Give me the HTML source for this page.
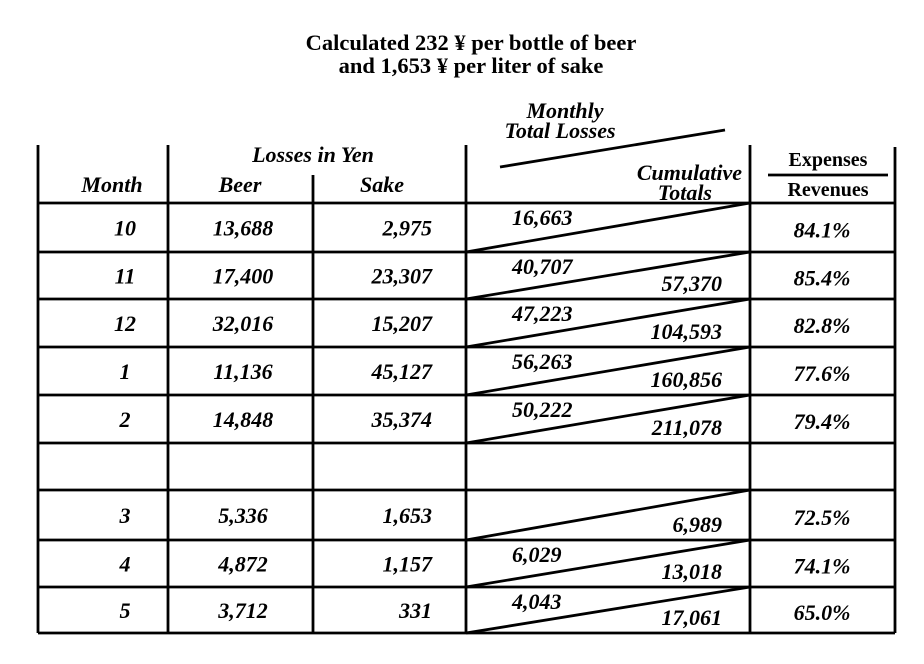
<!DOCTYPE html>
<html><head><meta charset="utf-8"><style>
html,body{margin:0;padding:0;background:#fff;}
svg{display:block;}
text{font-family:"Liberation Serif",serif;fill:#000;}
.b{font-weight:bold;font-style:italic;font-size:22px;}
</style></head><body>
<svg id="t" width="924" height="664" viewBox="0 0 924 664">
<text x="471" y="50" text-anchor="middle" font-weight="bold" font-size="22.5">Calculated 232 ¥  per bottle of beer</text>
<text x="471" y="73" text-anchor="middle" font-weight="bold" font-size="22.5">and 1,653 ¥ per liter of sake</text>
<g stroke="#000" stroke-width="2.8" fill="none" id="grid">
<line x1="38" y1="145" x2="38" y2="633"/>
<line x1="168" y1="145" x2="168" y2="633"/>
<line x1="313" y1="175" x2="313" y2="633"/>
<line x1="466" y1="145" x2="466" y2="633"/>
<line x1="750" y1="145" x2="750" y2="633"/>
<line x1="895" y1="147" x2="895" y2="633"/>
<line x1="38" y1="203" x2="895" y2="203"/>
<line x1="768" y1="175" x2="888" y2="175"/>
<line x1="500" y1="167" x2="725" y2="130"/>
</g>
<text x="565" y="118" text-anchor="middle" class="b" font-size="20">Monthly</text>
<text x="560" y="138" text-anchor="middle" class="b" font-size="20">Total Losses</text>
<text x="313" y="162" text-anchor="middle" class="b" font-size="20">Losses in Yen</text>
<text x="112" y="192" text-anchor="middle" class="b" font-size="20">Month</text>
<text x="240" y="192" text-anchor="middle" class="b" font-size="20">Beer</text>
<text x="382" y="192" text-anchor="middle" class="b" font-size="20">Sake</text>
<text x="742" y="180" text-anchor="end" class="b" font-size="20">Cumulative</text>
<text x="712" y="200" text-anchor="end" class="b" font-size="20">Totals</text>
<text x="828" y="166" text-anchor="middle" font-weight="bold" font-size="20">Expenses</text>
<text x="828" y="196" text-anchor="middle" font-weight="bold" font-size="20">Revenues</text>
</svg>
<script>
const months=["10","11","12","1","2","","3","4","5"];
const beer=["13,688","17,400","32,016","11,136","14,848","","5,336","4,872","3,712"];
const sake=["2,975","23,307","15,207","45,127","35,374","","1,653","1,157","331"];
const monthly=["16,663","40,707","47,223","56,263","50,222","","","6,029","4,043"];
const cumulative=["","57,370","104,593","160,856","211,078","","6,989","13,018","17,061"];
const ratio=["84.1%","85.4%","82.8%","77.6%","79.4%","","72.5%","74.1%","65.0%"];
const rowTops=[203,252,299,347,395,443,490,540,587,633];
const svg=document.getElementById('t');
const NS="http://www.w3.org/2000/svg";
function line(x1,y1,x2,y2){const l=document.createElementNS(NS,'line');
l.setAttribute('x1',x1);l.setAttribute('y1',y1);l.setAttribute('x2',x2);l.setAttribute('y2',y2);
l.setAttribute('stroke','#000');l.setAttribute('stroke-width','2.8');svg.appendChild(l);return l;}
function txt(s,x,y,anchor,name){const t=document.createElementNS(NS,'text');
t.setAttribute('x',x);t.setAttribute('y',y);t.setAttribute('text-anchor',anchor);t.setAttribute('class','b');


t.textContent=s;svg.appendChild(t);return t;}
for(let i=0;i<months.length;i++){
  const top=rowTops[i],bot=rowTops[i+1],mid=(top+bot)/2;
  const hl=line(38,bot,895,bot);
  
  
  if(!months[i])continue;
  const d=line(466,bot,750,top);
  
  
  txt(months[i],125,mid+8,'middle','month-cell');
  txt(beer[i],243,mid+8,'middle','beer-cell');
  txt(sake[i],432,mid+8,'end','sake-cell');
  if(monthly[i])txt(monthly[i],512,top+22,'start','monthly-cell');
  if(cumulative[i])txt(cumulative[i],722,bot-8,'end','cumulative-cell');
  txt(ratio[i],822,mid+10,'middle','ratio-cell');
}
</script>
</body></html>
